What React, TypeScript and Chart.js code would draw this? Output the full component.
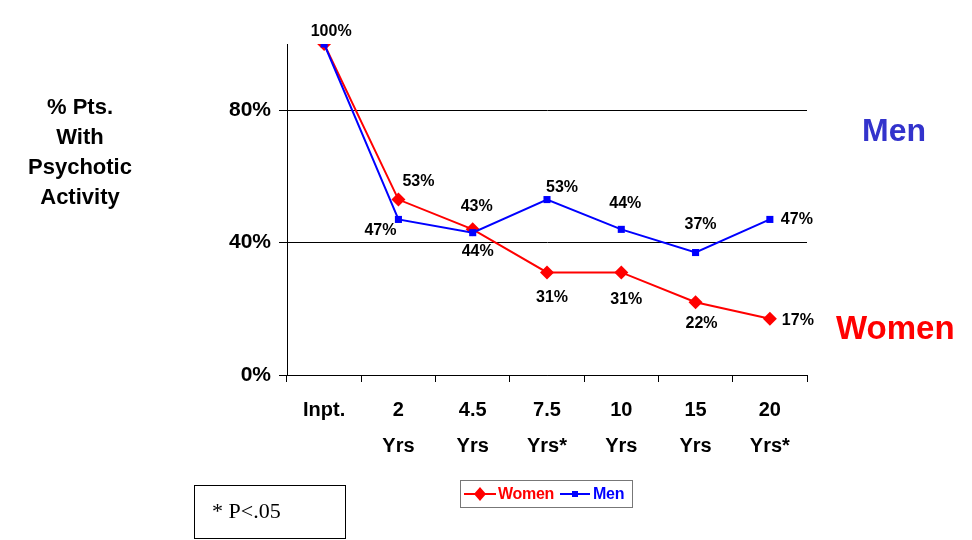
import React, { useEffect, useRef } from "react";
import { Chart, registerables } from "chart.js";

Chart.register(...registerables);

const categories: string[][] = [["Inpt."], ["2", "Yrs"], ["4.5", "Yrs"], ["7.5", "Yrs*"], ["10", "Yrs"], ["15", "Yrs"], ["20", "Yrs*"]];
const womenValues = [100, 53, 44, 31, 31, 22, 17];
const menValues = [100, 47, 43, 53, 44, 37, 47];
const yTicks = [0, 40, 80];
const titleLines = ["% Pts.", "With", "Psychotic", "Activity"];

// label offsets (dx, dy) relative to each point; null = no label
const menLabelOffsets: ([number, number] | null)[] = [[7, -12], [-18, 11], [4, -26], [15, -12], [4, -26], [5, -28], [27, 0]];
const womenLabelOffsets: ([number, number] | null)[] = [null, [20, -18], [5, 22], [5, 25], [5, 27], [6, 21], [28, 2]];

const FONT = "'Liberation Sans', Arial, Helvetica, sans-serif";

const labelPlugin = {
  id: "pointLabels",
  afterDatasetsDraw(chart: any) {
    const ctx = chart.ctx;
    ctx.save();
    ctx.font = `bold 16px ${FONT}`;
    ctx.fillStyle = "#000";
    ctx.textAlign = "center";
    ctx.textBaseline = "middle";
    chart.data.datasets.forEach((ds: any, di: number) => {
      const meta = chart.getDatasetMeta(di);
      const offs = ds.label === "Men" ? menLabelOffsets : womenLabelOffsets;
      meta.data.forEach((pt: any, i: number) => {
        const o = offs[i];
        if (!o) return;
        ctx.fillText(`${ds.data[i]}%`, pt.x + o[0], pt.y + o[1]);
      });
    });
    ctx.restore();
  },
};

export default function App() {
  const ref = useRef<HTMLCanvasElement>(null);
  useEffect(() => {
    if (!ref.current) return;
    const chart = new Chart(ref.current, {
      type: "line",
      data: {
        labels: categories,
        datasets: [
          {
            label: "Men",
            data: menValues,
            borderColor: "#0000ff",
            backgroundColor: "#0000ff",
            borderWidth: 2,
            pointStyle: "rect",
            pointRadius: 5,
            pointBorderWidth: 0,
            tension: 0,
          },
          {
            label: "Women",
            data: womenValues,
            borderColor: "#ff0000",
            backgroundColor: "#ff0000",
            borderWidth: 2,
            pointStyle: "rectRot",
            pointRadius: 7,
            pointBorderWidth: 0,
            tension: 0,
          },
        ],
      },
      options: {
        responsive: false,
        animation: false,
        layout: { padding: { top: 44, right: 165, left: 0, bottom: 0 } },
        plugins: { legend: { display: false }, tooltip: { enabled: false } },
        scales: {
          x: {
            offset: true,
            grid: { display: true, drawOnChartArea: false, drawTicks: true, tickLength: 7, color: "#000", offset: true },
            border: { display: true, color: "#000", width: 1 },
            ticks: {
              color: "#000",
              font: { family: FONT, size: 20, weight: "bold", lineHeight: 1.8 },
              padding: 10,
              maxRotation: 0,
              autoSkip: false,
            },
            afterFit: (s: any) => { s.height = 165; },
          },
          y: {
            min: 0,
            max: 100,
            afterBuildTicks: (s: any) => { s.ticks = yTicks.map((v) => ({ value: v })); },
            grid: { color: "#000", lineWidth: 1, tickLength: 8, drawTicks: true },
            border: { display: true, color: "#000", width: 1 },
            ticks: {
              color: "#000",
              font: { family: FONT, size: 21, weight: "bold" },
              padding: 8,
              callback: (v: any) => `${v}%`,
            },
            afterFit: (s: any) => { s.width = 287; },
          },
        },
      },
      plugins: [labelPlugin],
    } as any);
    return () => chart.destroy();
  }, []);

  return (
    <div style={{ position: "fixed", left: 0, top: 0, width: 972, height: 540, background: "#fff", overflow: "hidden" }}>
      <canvas ref={ref} width={972} height={540} style={{ position: "absolute", left: 0, top: 0 }} />
      <div style={{ position: "absolute", left: 0, top: 92, width: 160, textAlign: "center", fontFamily: FONT, fontWeight: "bold", fontSize: 22, lineHeight: "30px", color: "#000" }}>
        {titleLines.map((l, i) => <div key={i}>{l}</div>)}
      </div>
      <div style={{ position: "absolute", left: 862, top: 110, fontFamily: FONT, fontWeight: "bold", fontSize: 32, lineHeight: "40px", color: "#3333cc" }}>Men</div>
      <div style={{ position: "absolute", left: 836, top: 308, fontFamily: FONT, fontWeight: "bold", fontSize: 33, lineHeight: "40px", color: "#ff0000" }}>Women</div>
      <div style={{ position: "absolute", left: 460, top: 480, width: 173, height: 28, border: "1px solid #777", boxSizing: "border-box", display: "flex", alignItems: "center", fontFamily: FONT, fontWeight: "bold", fontSize: 16, letterSpacing: -0.3 }}>
        <svg width={32} height={16} style={{ marginLeft: 3 }}>
          <line x1={0} y1={8} x2={32} y2={8} stroke="#ff0000" strokeWidth={2} />
          <polygon points="16,1 22,8 16,15 10,8" fill="#ff0000" />
        </svg>
        <span style={{ color: "#ff0000", marginLeft: 2 }}>Women</span>
        <svg width={30} height={16} style={{ marginLeft: 6 }}>
          <line x1={0} y1={8} x2={30} y2={8} stroke="#0000ff" strokeWidth={2} />
          <rect x={12} y={5} width={6} height={6} fill="#0000ff" />
        </svg>
        <span style={{ color: "#0000ff", marginLeft: 3 }}>Men</span>
      </div>
      <div style={{ position: "absolute", left: 194, top: 485, width: 152, height: 54, border: "1px solid #000", boxSizing: "border-box", fontFamily: "'Liberation Serif', 'Times New Roman', serif", fontSize: 22, lineHeight: "50px", paddingLeft: 17, color: "#000" }}>* P&lt;.05</div>
    </div>
  );
}
